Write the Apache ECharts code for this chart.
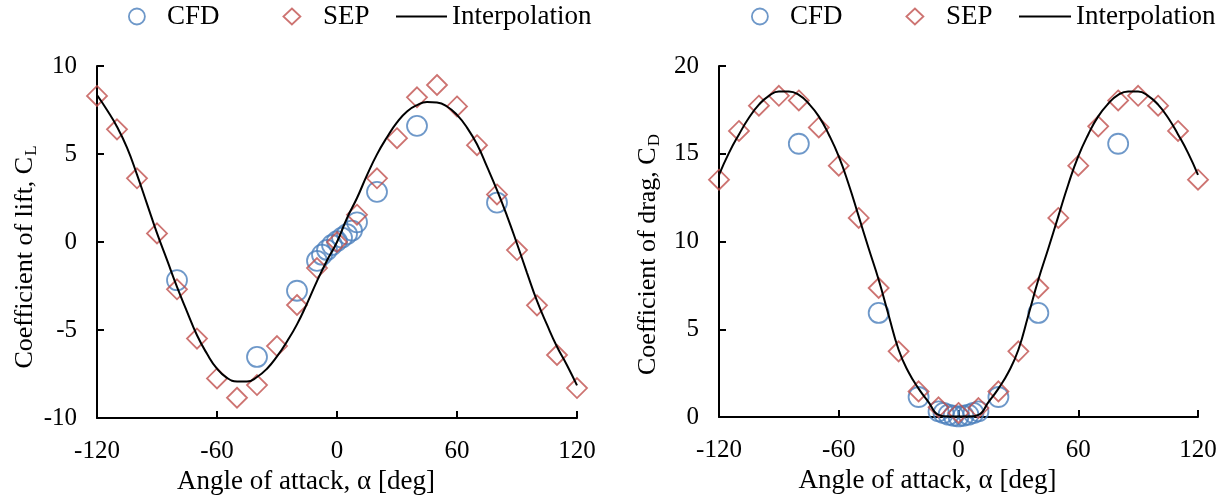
<!DOCTYPE html>
<html>
<head>
<meta charset="utf-8">
<script src="https://cdn.jsdelivr.net/npm/echarts@6/dist/echarts.min.js"></script>
<style>
html,body{margin:0;padding:0;background:#fff;}
#c{width:1228px;height:497px;}
</style>
</head>
<body>
<div id="c"></div>
<script>
// ---------- data ----------
const xTicks = [-120, -60, 0, 60, 120];

// SEP points (both charts)
const alphaSep = [-120, -110, -100, -90, -80, -70, -60, -50, -40, -30, -20, -10, 0,
                  10, 20, 30, 40, 50, 60, 70, 80, 90, 100, 110, 120];
const liftSep = [8.3, 6.4, 3.62, 0.49, -2.69, -5.49, -7.75, -8.85, -8.13, -5.91, -3.58, -1.48, 0.0,
                 1.55, 3.62, 5.9, 8.22, 8.92, 7.7, 5.5, 2.7, -0.46, -3.6, -6.42, -8.3];
const dragSep = [13.52, 16.3, 17.74, 18.3, 18.04, 16.5, 14.32, 11.34, 7.35, 3.74, 1.46, 0.55, 0.23,
                 0.51, 1.46, 3.74, 7.35, 11.34, 14.32, 16.56, 18.04, 18.3, 17.74, 16.3, 13.52];

// CFD points
const alphaCfd = [-80, -40, -20, -10, -7.5, -5, -2.5, 0, 2.5, 5, 7.5, 10, 20, 40, 80];
const liftCfd = [-2.17, -6.53, -2.77, -1.07, -0.72, -0.45, -0.17, 0.05, 0.25, 0.45, 0.65, 1.12, 2.85, 6.6, 2.24];
const dragCfd = [15.57, 5.93, 1.14, 0.32, 0.23, 0.13, 0.07, 0.03, 0.07, 0.13, 0.23, 0.32, 1.14, 5.93, 15.57];

// Interpolation curves (read every 5 deg)
const alphaInterp = [-120, -115, -110, -105, -100, -95, -90, -85, -80, -75, -70, -65, -60, -55, -50, -45,
                     -40, -35, -30, -25, -20, -15, -10, -5, 0, 5, 10, 15, 20, 25, 30, 35, 40, 45,
                     50, 55, 60, 65, 70, 75, 80, 85, 90, 95, 100, 105, 110, 115, 120];
const liftInterp = [8.35, 7.5, 6.55, 5.36, 3.83, 2.17, 0.5, -1.02, -2.55, -3.95, -5.3, -6.35, -7.2, -7.72, -7.92, -7.93,
                    -7.67, -7.2, -6.5, -5.65, -4.68, -3.5, -2.22, -1.05, 0.0, 1.36, 2.5, 3.8, 4.98, 5.95, 6.8, 7.42, 7.78, 7.95,
                    7.92, 7.7, 7.22, 6.5, 5.55, 4.28, 2.95, 1.49, -0.1, -1.75, -3.35, -4.7, -5.95, -7.0, -8.15];
const dragInterp = [13.8, 15.05, 16.1, 17.05, 17.8, 18.3, 18.55, 18.55, 18.35, 17.85, 17.13, 16.1, 14.85, 13.25, 11.43, 9.6,
                    7.82, 5.8, 3.83, 2.55, 1.62, 0.85, 0.12, 0.03, 0.03, 0.03, 0.12, 0.85, 1.62, 2.55, 3.83, 5.8, 7.82, 9.6,
                    11.43, 13.25, 14.85, 16.1, 17.13, 17.85, 18.35, 18.55, 18.55, 18.3, 17.8, 17.05, 16.1, 15.05, 13.8];

const liftTicks = [-10, -5, 0, 5, 10];
const dragTicks = [0, 5, 10, 15, 20];

// ---------- styles ----------
const FONT = 'Liberation Serif';
const BLUE = '#4A7EBB';
const RED = '#C0504D';

const pairs = (xs, ys) => xs.map((x, i) => [x, ys[i]]);

function makeX(gridIndex) {
  return {
    type: 'value', gridIndex,
    min: xTicks[0], max: xTicks[xTicks.length - 1], interval: xTicks[1] - xTicks[0],
    axisLine: { show: true, onZero: false, lineStyle: { color: '#000', width: 2 } },
    axisTick: { show: true, inside: true, length: 7, lineStyle: { color: '#000', width: 2 } },
    axisLabel: { color: '#000', fontFamily: FONT, fontSize: 25, margin: 21 },
    splitLine: { show: false },
    name: 'Angle of attack, α [deg]',
    nameLocation: 'middle', nameGap: 44,
    nameTextStyle: { color: '#000', fontFamily: FONT, fontSize: 27, padding: [0, 62, 0, 0] }
  };
}
function makeY(gridIndex, ticks, name, shift) {
  return {
    type: 'value', gridIndex,
    min: ticks[0], max: ticks[ticks.length - 1], interval: ticks[1] - ticks[0],
    axisLine: { show: true, onZero: false, lineStyle: { color: '#000', width: 2 } },
    axisTick: { show: true, inside: true, length: 7, lineStyle: { color: '#000', width: 2 } },
    axisLabel: { color: '#000', fontFamily: FONT, fontSize: 25, margin: 20 },
    splitLine: { show: false },
    name: name,
    nameLocation: 'middle', nameGap: 56, nameRotate: 90,
    nameTextStyle: {
      color: '#000', fontFamily: FONT, fontSize: 26, padding: [0, shift, 0, 0],
      rich: { sub: { color: '#000', fontFamily: FONT, fontSize: 17, padding: [12, 0, 0, 1] } }
    }
  };
}

function legend(name, left, icon, w, h, itemStyle) {
  return {
    data: [{ name: name, icon: icon }],
    left: left, top: 3, padding: 0,
    itemWidth: w, itemHeight: h,
    selectedMode: false,
    itemStyle: itemStyle,
    textStyle: { color: '#000', fontFamily: FONT, fontSize: 27 }
  };
}
const circleStyle = { color: 'rgba(0,0,0,0)', borderColor: BLUE, borderWidth: 1.8 };
const diamondStyle = { color: 'rgba(0,0,0,0)', borderColor: RED, borderWidth: 1.8 };
const lineStyleLeg = { color: '#000', borderWidth: 0 };
const diamondIcon = 'path://M0,0 M52,0 M52,17 M0,17 M26,0.5 L34.5,8.5 L26,16.5 L17.5,8.5 Z';

function seriesSet(idx, cfd, sep, interp) {
  return [
    { name: 'CFD', type: 'scatter', xAxisIndex: idx, yAxisIndex: idx,
      symbol: 'circle', symbolSize: 20, itemStyle: circleStyle,
      data: pairs(alphaCfd, cfd) },
    { name: 'SEP', type: 'scatter', xAxisIndex: idx, yAxisIndex: idx,
      symbol: 'diamond', symbolSize: 20, itemStyle: diamondStyle,
      data: pairs(alphaSep, sep) },
    { name: 'Interpolation', type: 'line', xAxisIndex: idx, yAxisIndex: idx,
      symbol: 'none', showSymbol: false, smooth: 0.5,
      lineStyle: { color: '#000', width: 2 }, itemStyle: { color: '#000' },
      data: pairs(alphaInterp, interp) }
  ];
}

const chart = echarts.init(document.getElementById('c'));
chart.setOption({
  animation: false,
  backgroundColor: '#fff',
  grid: [
    { left: 97, top: 66, width: 480, height: 352, outerBoundsMode: 'none', containLabel: false },
    { left: 719, top: 66, width: 479, height: 351, outerBoundsMode: 'none', containLabel: false }
  ],
  legend: [
    legend('CFD', 128, 'circle', 50, 16, circleStyle),
    legend('SEP', 265, diamondIcon, 52, 17, diamondStyle),
    legend('Interpolation', 396, 'rect', 51, 2, lineStyleLeg),
    legend('CFD', 751, 'circle', 50, 16, circleStyle),
    legend('SEP', 888, diamondIcon, 52, 17, diamondStyle),
    legend('Interpolation', 1019, 'rect', 52, 2, lineStyleLeg)
  ],
  xAxis: [makeX(0), makeX(1)],
  yAxis: [
    makeY(0, liftTicks, 'Coefficient of lift, C{sub|L}', 30),
    makeY(1, dragTicks, 'Coefficient of drag, C{sub|D}', 26)
  ],
  series: [].concat(
    seriesSet(0, liftCfd, liftSep, liftInterp),
    seriesSet(1, dragCfd, dragSep, dragInterp)
  )
});
</script>
</body>
</html>
